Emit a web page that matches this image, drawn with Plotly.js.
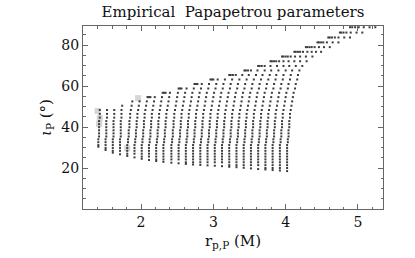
<!DOCTYPE html>
<html><head><meta charset="utf-8">
<script src="https://cdn.plot.ly/plotly-3.0.1.min.js"></script>
<style>html,body{margin:0;padding:0;background:#fff;}#chart{width:415px;height:258px;}</style>
</head><body><div id="chart"></div>
<script>
// Angle levels (ι_P, degrees) of the point rows
const rowAngle = [20.0,21.4,22.8,24.2,25.6,27.0,28.4,29.8,31.2,32.6,34.0,35.4,36.9,38.4,39.9,41.4,42.9,44.6,46.4,48.3,
  50.4,52.5,54.6,56.7,58.8,61.0,63.2,65.4,67.6,69.8,72.1,74.4,76.7,79.0,81.3,83.7,86.1,88.7];
// r_p,P positions (M) of the points in each row
const rowX = [
 [3.72,3.82,3.92,4.02],
 [3.22,3.32,3.42,3.52,3.62,3.72,3.82,3.92,4.02],
 [2.62,2.72,2.82,2.92,3.02,3.12,3.22,3.32,3.42,3.52,3.62,3.72,3.82,3.92,4.02],
 [2.21,2.31,2.42,2.52,2.62,2.72,2.82,2.92,3.02,3.12,3.22,3.32,3.42,3.52,3.62,3.72,3.82,3.92,4.02],
 [2.01,2.11,2.21,2.31,2.42,2.52,2.62,2.72,2.82,2.92,3.02,3.12,3.22,3.32,3.42,3.52,3.62,3.72,3.82,3.92,4.02],
 [1.81,1.91,2.01,2.11,2.21,2.31,2.42,2.52,2.62,2.72,2.82,2.92,3.02,3.12,3.22,3.32,3.42,3.52,3.62,3.72,3.82,3.92,4.02],
 [1.61,1.71,1.81,1.91,2.01,2.11,2.21,2.31,2.42,2.52,2.62,2.72,2.82,2.92,3.02,3.12,3.22,3.32,3.42,3.52,3.62,3.72,3.82,3.92,4.02],
 [1.51,1.61,1.71,1.81,1.91,2.01,2.11,2.21,2.31,2.42,2.52,2.62,2.72,2.82,2.92,3.02,3.12,3.22,3.32,3.42,3.52,3.62,3.72,3.82,3.92,4.02],
 [1.41,1.51,1.61,1.71,1.81,1.91,2.01,2.11,2.21,2.31,2.42,2.52,2.62,2.72,2.82,2.92,3.02,3.12,3.22,3.32,3.42,3.52,3.62,3.72,3.82,3.92,4.02],
 [1.41,1.51,1.61,1.71,1.82,1.92,2.02,2.12,2.22,2.32,2.43,2.53,2.63,2.73,2.83,2.93,3.03,3.13,3.23,3.33,3.43,3.53,3.63,3.73,3.83,3.93,4.03],
 [1.41,1.51,1.61,1.71,1.82,1.92,2.02,2.12,2.22,2.32,2.43,2.53,2.63,2.73,2.83,2.93,3.03,3.13,3.23,3.33,3.43,3.53,3.63,3.73,3.83,3.93,4.03],
 [1.42,1.52,1.62,1.72,1.83,1.93,2.03,2.13,2.23,2.33,2.44,2.54,2.64,2.74,2.84,2.94,3.04,3.14,3.24,3.34,3.44,3.54,3.64,3.74,3.84,3.94,4.04],
 [1.42,1.52,1.62,1.72,1.83,1.93,2.03,2.13,2.23,2.33,2.44,2.54,2.64,2.74,2.84,2.94,3.04,3.14,3.24,3.34,3.44,3.54,3.64,3.74,3.84,3.94,4.04],
 [1.42,1.52,1.62,1.72,1.83,1.93,2.03,2.13,2.23,2.33,2.44,2.54,2.64,2.74,2.84,2.94,3.04,3.14,3.24,3.34,3.44,3.54,3.64,3.74,3.84,3.94,4.04],
 [1.42,1.52,1.62,1.72,1.84,1.94,2.04,2.14,2.24,2.34,2.45,2.55,2.65,2.75,2.85,2.95,3.05,3.15,3.25,3.35,3.45,3.55,3.65,3.75,3.85,3.95,4.05],
 [1.42,1.52,1.62,1.72,1.84,1.94,2.04,2.14,2.24,2.34,2.45,2.55,2.65,2.75,2.85,2.95,3.05,3.15,3.25,3.35,3.45,3.55,3.65,3.75,3.85,3.95,4.05],
 [1.42,1.52,1.62,1.72,1.84,1.94,2.04,2.14,2.24,2.34,2.45,2.55,2.65,2.75,2.85,2.95,3.05,3.15,3.25,3.35,3.45,3.55,3.65,3.75,3.85,3.95,4.05],
 [1.43,1.53,1.63,1.73,1.85,1.95,2.05,2.15,2.25,2.35,2.46,2.56,2.66,2.76,2.86,2.96,3.06,3.16,3.26,3.36,3.46,3.56,3.66,3.76,3.86,3.96,4.06],
 [1.43,1.53,1.63,1.73,1.85,1.95,2.05,2.15,2.25,2.35,2.46,2.56,2.66,2.76,2.86,2.96,3.06,3.16,3.26,3.36,3.46,3.56,3.66,3.76,3.86,3.96,4.06],
 [1.43,1.53,1.63,1.73,1.86,1.96,2.06,2.16,2.26,2.36,2.47,2.57,2.67,2.77,2.87,2.97,3.07,3.17,3.27,3.37,3.47,3.57,3.67,3.77,3.87,3.97,4.07],
 [1.74,1.87,1.97,2.07,2.17,2.27,2.37,2.48,2.58,2.68,2.78,2.88,2.98,3.08,3.18,3.28,3.38,3.48,3.58,3.68,3.78,3.88,3.98,4.08],
 [1.88,1.98,2.08,2.18,2.28,2.38,2.49,2.59,2.69,2.79,2.89,2.99,3.09,3.19,3.29,3.39,3.49,3.59,3.69,3.79,3.89,3.99,4.09],
 [2.09,2.11,2.13,2.19,2.29,2.39,2.50,2.60,2.70,2.80,2.90,3.00,3.10,3.20,3.30,3.40,3.50,3.60,3.70,3.80,3.90,4.00,4.10],
 [2.30,2.32,2.34,2.40,2.51,2.61,2.71,2.81,2.91,3.01,3.11,3.21,3.31,3.41,3.51,3.61,3.71,3.81,3.91,4.01,4.11],
 [2.52,2.54,2.56,2.63,2.73,2.83,2.93,3.03,3.13,3.23,3.33,3.43,3.53,3.63,3.73,3.83,3.93,4.03,4.13],
 [2.74,2.76,2.78,2.84,2.94,3.04,3.14,3.24,3.34,3.44,3.54,3.64,3.74,3.84,3.94,4.04,4.14],
 [2.96,2.98,3.00,3.06,3.16,3.26,3.36,3.46,3.56,3.66,3.76,3.86,3.96,4.06,4.16],
 [3.22,3.24,3.27,3.31,3.40,3.49,3.59,3.68,3.78,3.87,3.97,4.07,4.17],
 [3.43,3.45,3.48,3.52,3.61,3.71,3.80,3.90,4.00,4.09,4.19],
 [3.62,3.64,3.67,3.71,3.79,3.88,3.97,4.05,4.14,4.23],
 [3.79,3.81,3.84,3.87,3.91,3.97,4.04,4.12,4.20,4.29],
 [3.95,3.97,4.00,4.03,4.07,4.13,4.20,4.28,4.37],
 [4.12,4.14,4.17,4.20,4.24,4.30,4.36,4.42,4.49],
 [4.28,4.30,4.33,4.36,4.40,4.46,4.53,4.61],
 [4.44,4.46,4.49,4.52,4.57,4.65,4.73],
 [4.59,4.61,4.64,4.68,4.73,4.81,4.89],
 [4.75,4.77,4.80,4.84,4.90,4.98,5.06],
 [4.89,4.92,4.96,5.01,5.08,5.16,5.24]
];
// lowest point of each column
const bottomX = [1.41,1.51,1.61,1.71,1.81,1.91,2.01,2.11,2.21,2.31,2.42,2.52,2.62,2.72,2.82,2.92,3.02,3.12,3.22,3.32,3.42,3.52,3.62,3.72,3.82,3.92,4.02];
const bottomY = [30.4,28.8,27.5,26.7,25.9,25.2,24.5,23.9,23.4,23.0,22.6,22.3,22.0,21.7,21.5,21.3,21.1,20.9,20.6,20.4,20.1,19.8,19.5,19.3,19.0,18.8,18.5];
// highlighted (gray) points
const markX = [1.40,1.43,1.42,1.96,1.81];
const markY = [47.8,44.4,41.5,54.1,29.6];
const xTicks = [2,3,4,5];
const yTicks = [20,40,60,80];

const px = [], py = [];
rowAngle.forEach((a, j) => { rowX[j].forEach(x => { px.push(x); py.push(a); }); });
bottomX.forEach((x, i) => { px.push(x); py.push(bottomY[i]); });

const serif = 'DejaVu Serif';
const traces = [
  {type:'scatter', mode:'markers', x:markX, y:markY, hoverinfo:'skip',
   marker:{symbol:'square', size:6, color:'#d6d6d6', line:{width:0}}},
  {type:'scatter', mode:'markers', x:px, y:py,
   marker:{symbol:'square', size:2, color:'#3c3c3c', line:{width:0}}}
];
const axisCommon = {
  showgrid:false, zeroline:false, showline:true, linecolor:'#666', linewidth:1,
  mirror:'allticks', ticks:'inside', ticklen:5, tickcolor:'#666', tickwidth:1,
  tickfont:{family:serif, size:14, color:'#111'}
};
const layout = {
  width:415, height:258, showlegend:false,
  margin:{l:83, r:32, t:26, b:49},
  paper_bgcolor:'#fff', plot_bgcolor:'#fff',
  title:{text:'Empirical  Papapetrou parameters', font:{family:serif, size:15, color:'#111'},
         x:0.5, xref:'paper', xanchor:'center', y:1-11.5/258, yref:'container', yanchor:'middle'},
  xaxis:Object.assign({}, axisCommon, {
    range:[1.198, 5.346], tickmode:'array', tickvals:xTicks,
    minor:{tickmode:'linear', tick0:0, dtick:0.2, ticks:'inside', ticklen:2.5, tickcolor:'#666'},
    title:{text:'r<sub>p,P</sub> (M)', font:{family:serif, size:15, color:'#111'}, standoff:6}
  }),
  yaxis:Object.assign({}, axisCommon, {
    range:[0, 89.3], tickmode:'array', tickvals:yTicks,
    minor:{tickmode:'linear', tick0:0, dtick:5, ticks:'inside', ticklen:2.5, tickcolor:'#666'},
    title:{text:'<i>ι</i><sub>P</sub> (°)', font:{family:serif, size:15, color:'#111'}, standoff:6}
  })
};
Plotly.newPlot('chart', traces, layout, {staticPlot:true, displayModeBar:false});
</script></body></html>
